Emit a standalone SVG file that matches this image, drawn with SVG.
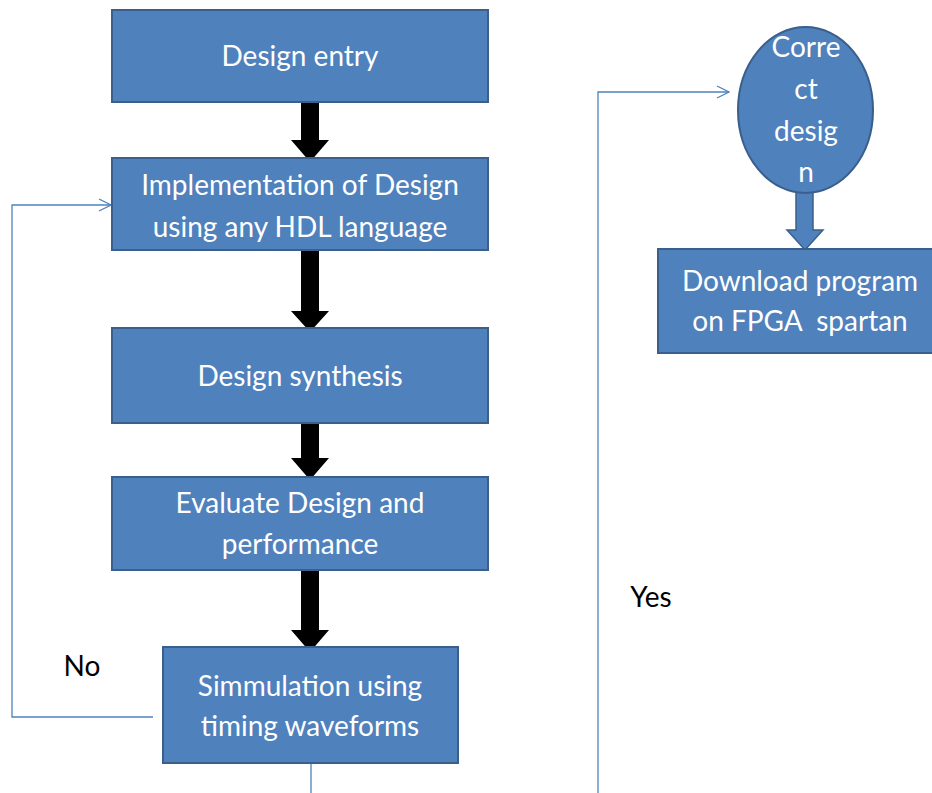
<svg xmlns="http://www.w3.org/2000/svg" width="932" height="793" viewBox="0 0 932 793">
  <style>
    .box { fill: #4F81BD; stroke: #3A5F8C; stroke-width: 2; }
    .lbl { font-family: Lato, "Open Sans", "Liberation Sans", sans-serif; font-size: 28px; fill: #FFFFFF; text-anchor: middle; dominant-baseline: central; white-space: pre; }
    .note { font-family: Lato, "Open Sans", "Liberation Sans", sans-serif; font-size: 28px; fill: #000000; text-anchor: middle; dominant-baseline: central; }
    .flow { fill: #000000; }
    .link { fill: none; stroke: #4F81BD; stroke-width: 1.3; }
  </style>
  <defs>
    <marker id="open" viewBox="0 0 14 14" refX="13" refY="7" markerWidth="14" markerHeight="14" markerUnits="userSpaceOnUse" orient="auto">
      <path d="M1,1 L13,7 L1,13" fill="none" stroke="#4F81BD" stroke-width="1.3"/>
    </marker>
  </defs>
  <rect width="932" height="793" fill="#FFFFFF"/>

  <g id="connectors">
    <!-- block arrows down the main column -->
    <path class="flow" d="M301,102 H319 V140 H329 L310,162 L291,140 H301 Z"/>
    <path class="flow" d="M301,250 H319 V311 H329 L310,332 L291,311 H301 Z"/>
    <path class="flow" d="M301,423 H319 V458 H329 L310,480 L291,458 H301 Z"/>
    <path class="flow" d="M301,570 H319 V630 H329 L310,652 L291,630 H301 Z"/>
    <!-- block arrow from the decision to the download step -->
    <path d="M796,192 H813 V230 H823 L805,250 L787,230 H796 Z" fill="#4F81BD" stroke="#3A5F8C" stroke-width="1.5"/>
    <!-- "No" loop back to implementation -->
    <polyline class="link" points="153,717 12,717 12,205 111,205" marker-end="url(#open)"/>
    <!-- "Yes" path up to the decision -->
    <line class="link" x1="311" y1="763" x2="311" y2="793"/>
    <polyline class="link" points="598,793 598,92 729,92" marker-end="url(#open)"/>
  </g>

  <g id="design-entry">
    <rect class="box" x="112" y="10" width="376" height="92"/>
    <text class="lbl" x="300" y="55">Design entry</text>
  </g>
  <g id="implementation">
    <rect class="box" x="112" y="158" width="376" height="92"/>
    <text class="lbl" x="300" y="184">Implementation of Design</text>
    <text class="lbl" x="300" y="226">using any HDL language</text>
  </g>
  <g id="synthesis">
    <rect class="box" x="112" y="328" width="376" height="95"/>
    <text class="lbl" x="300" y="375">Design synthesis</text>
  </g>
  <g id="evaluate">
    <rect class="box" x="112" y="477" width="376" height="93"/>
    <text class="lbl" x="300" y="502">Evaluate Design and</text>
    <text class="lbl" x="300" y="543">performance</text>
  </g>
  <g id="simulation">
    <rect class="box" x="163" y="647" width="295" height="116"/>
    <text class="lbl" x="310" y="685">Simmulation using</text>
    <text class="lbl" x="310" y="725">timing waveforms</text>
  </g>
  <g id="correct-design">
    <ellipse class="box" cx="805.5" cy="110" rx="67.5" ry="83"/>
    <text class="lbl" x="806" y="46">Corre</text>
    <text class="lbl" x="806" y="88">ct</text>
    <text class="lbl" x="806" y="130">desig</text>
    <text class="lbl" x="806" y="171">n</text>
  </g>
  <g id="download">
    <rect class="box" x="658" y="249" width="285" height="104"/>
    <text class="lbl" x="800" y="280">Download program</text>
    <text class="lbl" x="800" y="320">on FPGA  spartan</text>
  </g>

  <g id="labels">
    <text class="note" x="82" y="665">No</text>
    <text class="note" x="651" y="596">Yes</text>
  </g>
</svg>
